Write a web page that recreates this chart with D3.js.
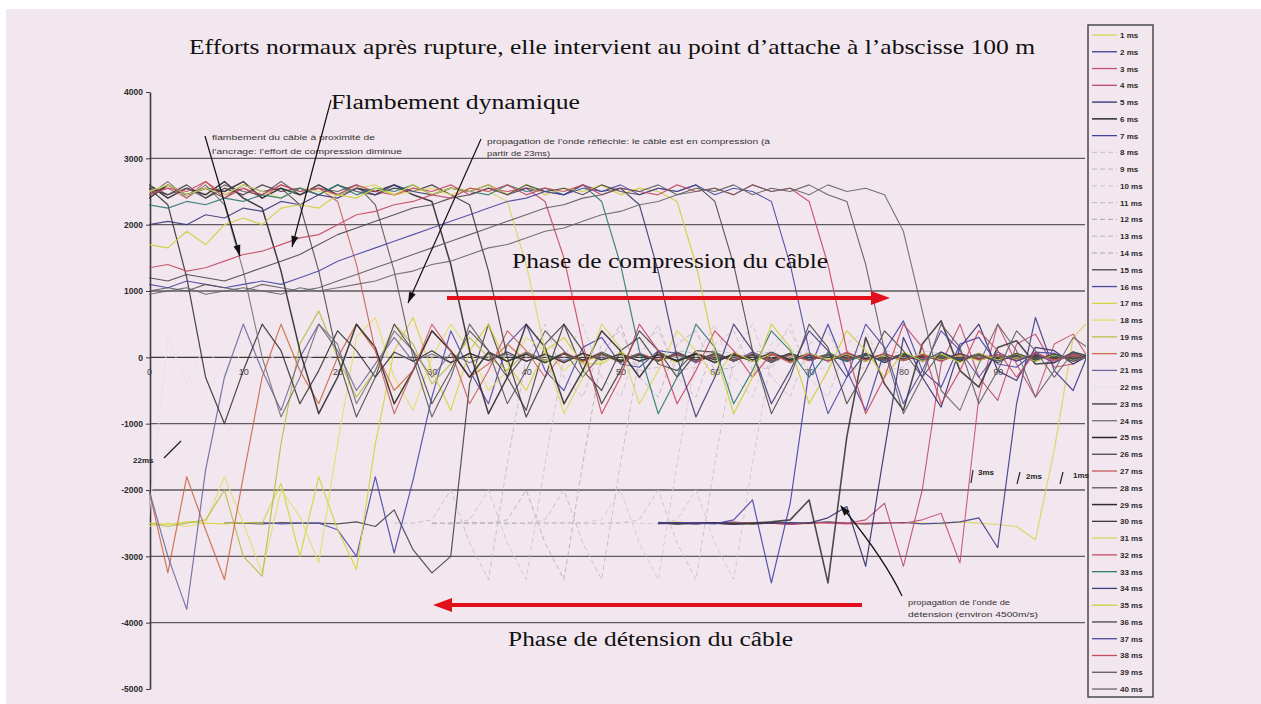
<!DOCTYPE html>
<html>
<head>
<meta charset="utf-8">
<script src="https://cdn.jsdelivr.net/npm/d3@7"></script>
<style>
  body { margin: 0; background: #ffffff; }
  svg { display: block; }
</style>
</head>
<body>
<svg id="chart" width="1261" height="704"></svg>
<script>
// Normal force along the cable (x = abscissa in m) for each instant after rupture.
const _ = null;

const xPositions = [0,2,4,6,8,10,12,14,16,18,20,22,24,26,28,30,32,34,36,38,40,42,44,46,48,50,52,54,56,58,60,62,64,66,68,70,72,74,76,78,80,82,84,86,88,90,92,94,96,98,100];
const yTicks = [4000,3000,2000,1000,0,-1000,-2000,-3000,-4000,-5000];
const gridValues = [3000,2000,1000,0,-1000,-2000,-3000,-4000];
const xTicks = [0,10,20,30,40,50,60,70,80,90];
const seriesLabels = ["1 ms","2 ms","3 ms","4 ms","5 ms","6 ms","7 ms","8 ms","9 ms","10 ms","11 ms","12 ms","13 ms","14 ms","15 ms","16 ms","17 ms","18 ms","19 ms","20 ms","21 ms","22 ms","23 ms","24 ms","25 ms","26 ms","27 ms","28 ms","29 ms","30 ms","31 ms","32 ms","33 ms","34 ms","35 ms","36 ms","37 ms","38 ms","39 ms","40 ms"];

// Detension wave (1 to 22 ms)
const ms01 = [_,_,_,_,_,_,_,_,_,_, _,_,_,_,_,_,_,_,_,_, _,_,_,_,_,_,_,-2500,-2480,-2510,
  -2490,-2500,-2520,-2490,-2500,-2510,-2480,-2500,-2520,-2500, -2490,-2500,-2510,-2480,-2500,-2520,-2550,-2750,-1400,300, 600];
const ms02 = [_,_,_,_,_,_,_,_,_,_, _,_,_,_,_,_,_,_,_,_, _,_,_,_,_,_,_,-2500,-2510,-2490,
  -2500,-2520,-2500,-2490,-2510,-2500,-2480,-2500,-2510,-2500, -2490,-2510,-2500,-2480,-2420,-2870,-700,600,-200,-500, 200];
const ms03 = [_,_,_,_,_,_,_,_,_,_, _,_,_,_,_,_,_,_,_,_, _,_,_,_,_,_,_,-2500,-2490,-2510,
  -2500,-2480,-2510,-2500,-2520,-2490,-2500,-2510,-2500,-2490, -2500,-2450,-2350,-3100,-600,500,-100,-600,200,350, -100];
const ms04 = [_,_,_,_,_,_,_,_,_,_, _,_,_,_,_,_,_,_,_,_, _,_,_,_,_,_,_,-2510,-2500,-2490,
  -2500,-2510,-2490,-2500,-2520,-2500,-2490,-2500,-2450,-2200, -3150,-2000,-100,500,-300,-650,200,350,-150,-100, 80];
const ms05 = [_,_,_,_,_,_,_,_,_,_, _,_,_,_,_,_,_,_,_,_, _,_,_,_,_,_,_,-2500,-2500,-2510,
  -2490,-2500,-2510,-2500,-2490,-2500,-2420,-2250,-3150,-1400, 300,-300,-750,150,500,-200,-350,150,100,-100, 50];
const ms06 = [_,_,_,_,_,_,_,_,_,_, _,_,_,_,_,_,_,_,_,_, _,_,_,_,_,_,_,-2490,-2510,-2500,
  -2500,-2510,-2500,-2480,-2450,-2150,-3400,-1200,300,-400, -800,200,550,-200,-450,150,250,-100,-80,80, 0];
const ms07 = [_,_,_,_,_,_,_,_,_,_, _,_,_,_,_,_,_,_,_,_, _,_,_,_,_,_,_,-2500,-2490,-2500,
  -2510,-2450,-2150,-3400,-2200,-200,500,-200,-800,100, 550,-200,-450,200,300,-100,-150,80,60,-60, 30];
const ms08 = [_,_,_,_,_,_,_,_,_,_, _,_,_,_,_,-2500,-2510,-2490,-2500,-2510,
  -2500,-2490,-2500,-2510,-2500,-2490,-2500,-2510,-2450,-2000, -2800,-3350,-1600,0,500,-300,-600,200,400,-200,
  -150,100,60,-80,50,-60,40,-50,60,-30, 20];
const ms09 = [_,_,_,_,_,_,_,_,_,_, _,_,_,_,_,-2500,-2490,-2510,-2500,-2490,
  -2510,-2500,-2490,-2500,-2510,-2500,-2450,-2000,-2800,-3350, -1600,0,500,-300,-600,200,400,-200,-150,100,
  60,-80,50,-60,40,-50,60,-30,20,-40, 30];
const ms10 = [_,_,_,_,_,_,_,_,_,_, _,_,_,_,_,-2490,-2500,-2510,-2500,-2490,
  -2500,-2510,-2500,-2490,-2450,-2000,-2800,-3350,-1600,0, 500,-300,-600,200,400,-200,-150,100,60,-80,
  50,-60,40,-50,60,-30,20,-40,30,-20, 10];
const ms11 = [_,_,_,_,_,_,_,_,_,_, _,_,_,_,_,-2510,-2500,-2490,-2500,-2510,
  -2500,-2450,-2000,-2800,-3350,-1600,0,500,-300,-600, 200,400,-200,-150,100,60,-80,50,-60,40,
  -50,60,-30,20,-40,30,-20,40,-30,20, -10];
const ms12 = [_,_,_,_,_,_,_,_,_,_, _,_,_,_,_,-2500,-2510,-2490,-2500,-2450,
  -2000,-2800,-3350,-1600,0,500,-300,-600,200,400, -200,-150,100,60,-80,50,-60,40,-50,60,
  -30,20,-40,30,-20,40,-30,20,-10,20, -20];
const ms13 = [_,_,_,_,_,_,_,_,_,_, _,_,_,_,_,-2490,-2510,-2450,-2000,-2800,
  -3350,-1600,0,500,-300,-600,200,400,-200,-150, 100,60,-80,50,-60,40,-50,60,-30,20,
  -40,30,-20,40,-30,20,-10,30,-20,10, -10];
const ms14 = [_,_,_,_,_,_,_,_,_,_, _,_,_,-2500,-2500,-2450,-2000,-2800,-3350,-1600,
  0,500,-300,-600,200,400,-200,-150,100,60, -80,50,-60,40,-50,60,-30,20,-40,30,
  -20,40,-30,20,-10,30,-20,10,-10,20, -10];
const ms15 = [_,_,_,_,-2500,-2500,-2510,-2490,-2500,-2500, -2510,-2480,-2550,-2300,-2900,-3250,-3000,-400,500,-300,
  -800,200,500,-200,-500,100,300,-100,-200,100, 80,-60,50,-80,60,-40,50,-60,40,-50,
  60,-40,30,-50,40,-30,50,-40,30,-20, 20];
const ms16 = [_,_,_,_,_,-2500,-2490,-2510,-2500,-2500, -2600,-3000,-1800,-2950,-1850,-600,400,-200,-700,200,
  500,-200,-500,150,300,-100,-150,100,60,-80, 50,-60,80,-40,60,-50,40,-60,50,-30,
  40,-50,30,-40,50,-30,40,-20,30,-40, 20];
const ms17 = [-2500,-2520,-2480,-2500,-2510,-2490,-2500,-1900,-3000,-1800, -2600,-3200,-1300,100,600,-200,-800,100,500,-100,
  -500,100,300,-100,-100,80,-60,50,-80,60, -40,50,-60,40,-50,60,-30,40,-50,30,
  -40,50,-30,20,-40,30,-20,40,-30,20, -10];
const ms18 = [-2550,-2500,-2550,-2500,-1800,-2500,-3250,-2000,-2400,-3100, -1300,300,600,-300,-800,0,500,100,-500,-200,
  300,100,-200,60,-80,50,-60,40,-50,60, -30,40,-60,50,-40,30,-50,60,-40,20,
  -30,40,-20,30,-40,20,-30,40,-20,30, -20];
const ms19 = [-2500,-2550,-2500,-2450,-2000,-3000,-3300,-1300,200,700, 0,-600,-200,500,200,-400,-100,300,0,-200,
  80,-60,50,-80,60,-40,50,-60,40,-50, 60,-40,30,-50,40,-30,50,-40,30,-20,
  40,-30,20,-40,30,-20,40,-30,20,-10, 10];
const ms20 = [-2000,-3250,-1800,-2600,-3350,-1800,-300,500,-200,-700, 0,500,100,-500,-200,400,100,-300,-100,200,
  -60,50,-80,60,-40,50,-60,40,-50,60, -40,30,-50,40,-30,50,-40,30,-20,40,
  -30,20,-40,30,-20,40,-30,20,-10,30, -20];
const ms21 = [-2000,-3000,-3800,-1700,-300,500,-200,-800,0,500, 100,-500,-100,300,-60,50,-80,60,-40,50,
  -60,40,-50,60,-30,40,-50,30,-40,50, -20,30,-40,50,-30,20,-40,30,-20,40,
  -30,20,-10,30,-20,40,-30,20,-10,20, -10];
const ms22 = [-2400,300,-400,200,-300,100,-100,80,-60,50, -40,60,-50,40,-30,50,-40,30,-20,40,
  -30,20,-40,30,-20,40,-30,20,-10,30, -20,10,-30,20,-10,30,-20,10,-10,20,
  -10,20,-20,10,-10,20,-10,10,-20,10, 0];

// Reflected wave: compression (23 to 40 ms)
const ms23 = [2550,2300,1200,-300,-1000,-200,500,100,-700,-200, 400,100,-300,80,-60,100,-80,60,-50,80,
  -60,50,-80,60,-40,50,-60,40,-50,60, -40,30,-50,40,-30,50,-40,30,-20,40,
  -30,20,-40,30,-20,40,-30,20,-10,30, -20];
const ms24 = [2450,2650,2400,2600,2300,1300,0,-900,-300,500, 200,-700,-200,400,100,-300,60,-80,50,-60,
  80,-40,60,-50,40,-60,50,-30,40,-50, 60,-40,30,-50,40,-30,50,-40,30,-20,
  40,-30,20,-40,30,-20,40,-30,20,-10, 10];
const ms25 = [2600,2400,2550,2450,2650,2400,2250,1300,100,-850, -300,500,150,-700,-200,400,100,-300,80,-60,
  50,-80,60,-40,50,-60,40,-50,60,-40, 30,-50,40,-30,50,-40,30,-20,40,-30,
  20,-40,30,-20,40,-30,20,-10,30,-20, 10];
const ms26 = [2450,2600,2450,2550,2400,2600,2500,2550,2300,1300, 0,-900,-300,500,100,-700,-200,400,100,-300,
  60,-80,50,-60,80,-40,60,-50,40,-60, 50,-30,40,-50,60,-40,30,-50,40,-30,
  50,-40,30,-20,40,-30,20,-40,30,-20, 10];
const ms27 = [2500,2550,2400,2650,2450,2550,2400,2600,2500,2550, 2350,1400,100,-850,-200,500,100,-700,-200,400,
  100,-300,80,-60,50,-80,60,-40,50,-60, 40,-50,60,-40,30,-50,40,-30,50,-40,
  30,-20,40,-30,20,-40,30,-20,40,-30, 20];
const ms28 = [2600,2450,2550,2400,2600,2500,2450,2650,2450,2550, 2500,2600,2300,1300,0,-900,-300,500,100,-700,
  -200,400,100,-300,60,-80,50,-60,80,-40, 60,-50,40,-60,50,-30,40,-50,60,-40,
  30,-50,40,-30,50,-40,30,-20,40,-30, 20];
const ms29 = [2400,2600,2450,2550,2500,2650,2400,2550,2450,2600, 2450,2550,2500,2600,2450,2350,1400,100,-850,-300,
  500,150,-700,-200,400,100,-300,80,-60,50, -80,60,-40,50,-60,40,-50,60,-40,30,
  -50,40,-30,50,-40,30,-20,40,-30,20, -10];
const ms30 = [2550,2450,2600,2400,2550,2450,2600,2500,2550,2450, 2600,2500,2450,2550,2500,2600,2450,2300,1300,0,
  -900,-300,500,100,-700,-200,400,100,-300,60, -80,50,-60,80,-40,60,-50,40,-60,50,
  -30,40,-50,60,-40,30,-50,40,-30,50, -20];
const ms31 = [2500,2600,2450,2550,2450,2600,2500,2400,2550,2500, 2450,2550,2600,2450,2500,2550,2450,2550,2500,2350,
  1400,100,-850,-300,500,150,-700,-200,400,100, -300,80,-60,50,-80,60,-40,50,-60,40,
  -50,60,-40,30,-50,40,-30,50,-40,30, -20];
const ms32 = [2450,2550,2500,2650,2400,2550,2450,2600,2500,2550, 2450,2600,2500,2450,2550,2500,2600,2450,2550,2500,
  2550,2350,1500,200,-850,-300,500,100,-700,-200, 400,100,-300,60,-80,50,-60,80,-40,60,
  -50,40,-60,50,-30,40,-50,60,-40,30, -20];
const ms33 = [2300,2250,2350,2300,2400,2350,2450,2400,2550,2450, 2600,2450,2550,2500,2600,2450,2550,2500,2450,2600,
  2500,2550,2450,2600,2350,1400,100,-850,-300,500, 150,-700,-200,400,100,-300,80,-60,50,-80,
  60,-40,50,-60,40,-50,60,-40,30,-50, 40];
const ms34 = [2000,2050,2000,2150,2100,2250,2200,2350,2300,2450, 2400,2550,2450,2600,2500,2450,2550,2500,2600,2450,
  2550,2500,2450,2600,2500,2550,2300,1300,0,-900, -300,500,100,-700,-200,400,100,-300,60,-80,
  50,-60,80,-40,60,-50,40,-60,50,-30, 40];
const ms35 = [1700,1650,1900,1700,2000,2100,2000,2250,2300,2250, 2450,2400,2550,2450,2600,2450,2550,2500,2600,2450,
  2600,2450,2550,2500,2600,2450,2550,2500,2350,1400, 100,-850,-300,500,150,-700,-200,400,100,-300,
  80,-60,50,-80,60,-40,50,-60,40,-50, 30];
const ms36 = [1200,1150,1250,1200,1150,1250,1350,1450,1550,1700, 1850,1950,2050,2150,2250,2300,2400,2450,2550,2450,
  2600,2500,2550,2450,2600,2500,2450,2550,2500,2600, 2350,1400,100,-850,-300,500,150,-700,-200,400,
  100,-300,80,-60,50,-80,60,-40,50,-60, 40];
const ms37 = [1100,1050,1150,1100,1050,1100,1150,1100,1200,1300, 1450,1550,1650,1750,1850,1950,2050,2150,2250,2350,
  2400,2500,2450,2550,2500,2600,2450,2550,2500,2600, 2450,2550,2500,2350,1400,100,-850,-300,500,150,
  -700,-200,400,100,-300,80,-60,50,-80,60, -40];
const ms38 = [1350,1400,1300,1350,1450,1550,1600,1700,1800,1850, 2000,2150,2200,2300,2350,2450,2400,2550,2500,2600,
  2450,2550,2500,2600,2450,2550,2500,2450,2600,2500, 2550,2450,2600,2500,2550,2350,1400,100,-850,-300,
  500,150,-700,-200,400,100,-300,80,-60,50, -40];
const ms39 = [1000,1050,1000,1100,1050,1000,1100,1050,1000,1050, 1150,1250,1350,1450,1550,1650,1750,1850,1950,2050,
  2150,2250,2300,2400,2450,2550,2500,2600,2450,2550, 2500,2600,2450,2550,2500,2600,2450,2350,1400,100,
  -850,-300,500,150,-700,-200,400,100,-300,80, -60];
const ms40 = [950,1000,1050,950,1000,1050,1000,950,1050,1000, 1050,1100,1150,1250,1300,1400,1450,1550,1650,1700,
  1800,1900,1950,2050,2150,2200,2300,2350,2450,2500, 2550,2450,2600,2500,2550,2450,2600,2500,2550,2450,
  1900,700,-500,-800,-100,500,100,-600,-200,300, 100];

const seriesValues = [ms01,ms02,ms03,ms04,ms05,ms06,ms07,ms08,ms09,ms10,ms11,ms12,ms13,ms14,ms15,ms16,ms17,ms18,ms19,ms20,
  ms21,ms22,ms23,ms24,ms25,ms26,ms27,ms28,ms29,ms30,ms31,ms32,ms33,ms34,ms35,ms36,ms37,ms38,ms39,ms40];

// Line styles per series
const seriesColors = ["#d6d65a","#3c3c8c","#c4506e","#b84868","#2e2e6a","#383838","#4242a6",
  "#cfc6cf","#c9c0c9","#d2c9d2","#c6bdc6","#b8afb8","#cdc4cd","#c4bbc4",
  "#444444","#4a4aa6","#d4d43c","#e0e070","#b6c048","#cc6a48","#6a6a9e","#eae0e7",
  "#333333","#707070","#2a2a2a","#484848","#c45a5a","#585858","#2c2c2c","#3c3c3c",
  "#d8d860","#c84a60","#2e7a72","#3c3c78","#cece38","#464646","#4646a0","#c44a62","#5a5a5a","#666666"];
const seriesWidths = [1.2,1.2,1.1,1.1,1.2,1.6,1.2, 1,1,1,1,1,1,1, 1.2,1.2,1.2,1.2,1.2,1.2,1.2,1,
  1.2,1.1,1.5,1.1,1.1,1.1,1.5,1.2, 1.2,1.2,1.2,1.2,1.2,1.1,1.1,1.2,1.1,1.1];
const seriesDashes = [null,null,null,null,null,null,null, "5,3","5,3","5,3","5,3","5,3","5,3","5,3",
  null,null,null,null,null,null,null,null, null,null,null,null,null,null,null,null,
  null,null,null,null,null,null,null,null,null,null];
const drawOrder = [7,8,9,10,11,12,13,21,0,1,2,3,4,5,6,14,15,16,17,18,19,20,22,23,24,25,26,27,28,29,30,31,32,33,34,35,36,37,38,39];

const svg = d3.select("#chart");
const W = 1261, H = 704;

svg.append("rect").attr("width", W).attr("height", H).attr("fill", "#ffffff");
svg.append("rect").attr("x", 6).attr("y", 9).attr("width", W - 6).attr("height", H - 9).attr("fill", "#f3e7ef");

const x = d3.scaleLinear().domain([0, 100]).range([149, 1092]);
const y = d3.scaleLinear().domain([-5000, 4000]).range([689, 92]);

// Horizontal reference lines
svg.append("g").selectAll("line").data(gridValues).join("line")
  .attr("x1", 150).attr("x2", 1085)
  .attr("y1", d => y(d)).attr("y2", d => y(d))
  .attr("stroke", d => d === 0 ? "#383838" : "#5e5a5e")
  .attr("stroke-width", 1.4);

// Y axis
const yAxis = d3.axisLeft(y).tickValues(yTicks).tickSize(4).tickSizeOuter(0).tickPadding(3)
  .tickFormat(d => String(d));
const gy = svg.append("g").attr("transform", "translate(150,0)").call(yAxis);
gy.select(".domain").attr("stroke", "#3a3a3a").attr("stroke-width", 1.6);
gy.selectAll(".tick line").attr("stroke", "#3a3a3a");
gy.selectAll(".tick text").attr("fill", "#2a2a2a").style("font-family", "'Liberation Sans', Arial, sans-serif")
  .style("font-size", "8.5px").style("font-weight", "bold");

// X tick labels along the zero line
const xAxis = d3.axisBottom(x).tickValues(xTicks).tickSize(0).tickPadding(11);
const gx = svg.append("g").attr("transform", `translate(0,${y(0)})`).call(xAxis);
gx.select(".domain").remove();
gx.selectAll(".tick text").attr("fill", "#444").style("font-family", "'Liberation Sans', Arial, sans-serif")
  .style("font-size", "9px");

// Curves
svg.append("clipPath").attr("id", "plotClip").append("rect")
  .attr("x", 149).attr("y", 20).attr("width", 937).attr("height", 680);

const line = d3.line()
  .defined(d => d[1] !== null)
  .x(d => x(d[0]))
  .y(d => y(d[1]));

const curves = svg.append("g").attr("clip-path", "url(#plotClip)");
drawOrder.forEach(i => {
  const pts = xPositions.map((xv, k) => [xv, seriesValues[i][k]]);
  curves.append("path")
    .attr("d", line(pts))
    .attr("fill", "none")
    .attr("stroke", seriesColors[i])
    .attr("stroke-width", seriesWidths[i])
    .attr("stroke-dasharray", seriesDashes[i])
    .attr("stroke-linejoin", "round")
    .attr("opacity", 0.9);
});

// Legend
const legend = svg.append("g");
legend.append("rect").attr("x", 1088).attr("y", 25).attr("width", 65).attr("height", 672)
  .attr("fill", "none").attr("stroke", "#4a4a4a").attr("stroke-width", 1.5);
seriesLabels.forEach((name, i) => {
  const ly = 35 + i * 16.77;
  legend.append("line").attr("x1", 1092).attr("x2", 1117).attr("y1", ly).attr("y2", ly)
    .attr("stroke", seriesColors[i]).attr("stroke-width", Math.max(1.3, seriesWidths[i]))
    .attr("stroke-dasharray", seriesDashes[i]);
  legend.append("text").attr("x", 1120).attr("y", ly + 3).text(name)
    .attr("fill", "#2a2a2a").style("font-family", "'Liberation Sans', Arial, sans-serif")
    .style("font-size", "8px").style("font-weight", "bold");
});

// Text annotations
const serif = "'Liberation Serif', 'DejaVu Serif', serif";
const sans = "'Liberation Sans', Arial, sans-serif";

function label(txt, lx, ly, size, family, opts = {}) {
  const t = svg.append("text").attr("x", lx).attr("y", ly).text(txt)
    .attr("fill", opts.fill || "#111")
    .style("font-family", family).style("font-size", size + "px");
  if (opts.anchor) t.attr("text-anchor", opts.anchor);
  if (opts.len) t.attr("textLength", opts.len).attr("lengthAdjust", "spacingAndGlyphs");
  if (opts.weight) t.style("font-weight", opts.weight);
  return t;
}

function headAt(x1, y1, x2, y2, len, half, color) {
  const a = Math.atan2(y2 - y1, x2 - x1);
  const bx = x2 - len * Math.cos(a), by = y2 - len * Math.sin(a);
  const px = -Math.sin(a) * half, py = Math.cos(a) * half;
  svg.append("path")
    .attr("d", `M${x2},${y2}L${bx + px},${by + py}L${bx - px},${by - py}Z`)
    .attr("fill", color);
}

function blackArrow(x1, y1, x2, y2) {
  svg.append("line").attr("x1", x1).attr("y1", y1).attr("x2", x2).attr("y2", y2)
    .attr("stroke", "#111").attr("stroke-width", 1.2);
  headAt(x1, y1, x2, y2, 11, 3.5, "#111");
}

label("Efforts normaux après rupture, elle intervient au point d\u2019attache à l\u2019abscisse 100 m",
  612, 54, 21, serif, { anchor: "middle", len: 846 });
label("Flambement dynamique", 331, 109, 20, serif, { len: 249 });
label("Phase de compression du câble", 512, 268, 20, serif, { len: 316 });
label("Phase de détension du câble", 508, 646, 20, serif, { len: 285 });

label("flambement du câble à proximité de", 212, 140, 8, sans, { len: 163, fill: "#333" });
label("l\u2019ancrage: l\u2019effort de compression diminue", 212, 154, 8, sans, { len: 190, fill: "#333" });
label("propagation de l\u2019onde réfléchie: le câble est en compression (à", 487, 144, 8, sans, { len: 283, fill: "#333" });
label("partir de 23ms)", 487, 156, 8, sans, { len: 63, fill: "#333" });
label("propagation de l\u2019onde de", 908, 605, 8, sans, { len: 102, fill: "#333" });
label("détension (environ 4500m/s)", 908, 617, 8, sans, { len: 130, fill: "#333" });

label("22ms", 133, 463, 8, sans, { fill: "#222", weight: "bold" });
label("3ms", 978, 475, 8, sans, { fill: "#222", weight: "bold" });
label("2ms", 1026, 479, 8, sans, { fill: "#222", weight: "bold" });
label("1ms", 1073, 478, 8, sans, { fill: "#222", weight: "bold" });

[[164, 458, 181, 441], [971, 483, 973, 470], [1017, 484, 1020, 472], [1060, 484, 1063, 472]].forEach(s => {
  svg.append("line").attr("x1", s[0]).attr("y1", s[1]).attr("x2", s[2]).attr("y2", s[3])
    .attr("stroke", "#222").attr("stroke-width", 1.2);
});

blackArrow(331, 100, 292, 247);
blackArrow(205, 136, 240, 256);
blackArrow(481, 139, 408, 303);
svg.append("path").attr("d", "M902,596 Q885,560 846,512")
  .attr("fill", "none").attr("stroke", "#111").attr("stroke-width", 1.2);
headAt(858, 527, 840, 505, 11, 3.5, "#111");

// Red phase arrows
function redArrow(x1, yy, x2) {
  const dir = Math.sign(x2 - x1);
  svg.append("line").attr("x1", x1).attr("y1", yy).attr("x2", x2 - dir * 16).attr("y2", yy)
    .attr("stroke", "#e3101c").attr("stroke-width", 4);
  headAt(x1, yy, x2, yy, 19, 7, "#e3101c");
}
redArrow(447, 298, 890);
redArrow(862, 605, 433);
</script>
</body>
</html>
